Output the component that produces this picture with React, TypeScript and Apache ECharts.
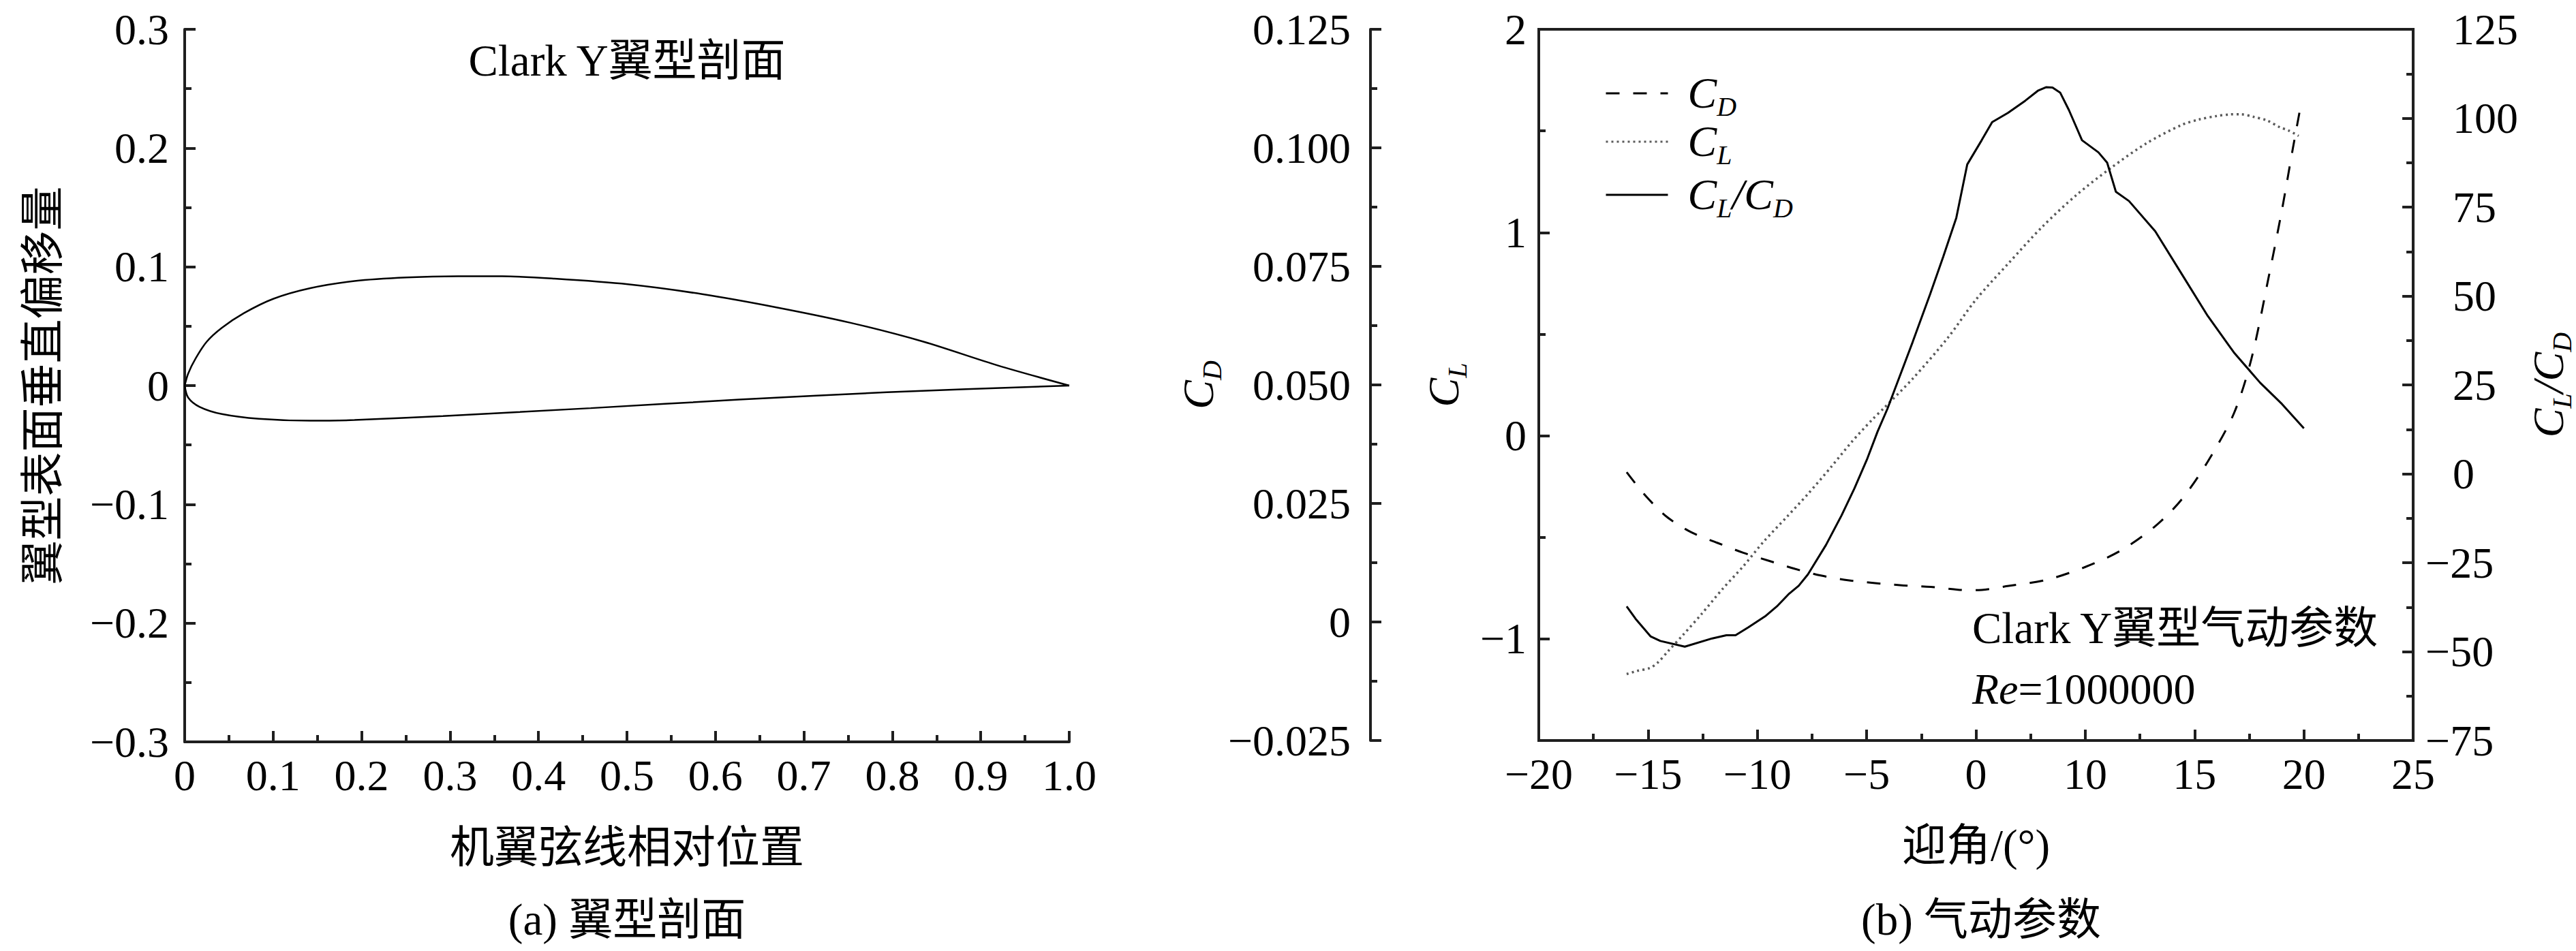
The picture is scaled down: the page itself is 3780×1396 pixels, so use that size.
import React, { useEffect, useRef } from 'react';
import * as echarts from 'echarts';

const SERIF = "'Liberation Serif', 'Noto Sans CJK SC', serif";
const INK = '#1f1f1f';

// ---- (a) Clark Y airfoil section ----
const upperX = [0, 0.004, 0.0125, 0.025, 0.042, 0.067, 0.1, 0.142, 0.192, 0.251, 0.309, 0.359, 0.418, 0.501, 0.585, 0.668, 0.752, 0.835, 0.919, 1.0];
const upperY = [0, 0.0102, 0.023, 0.037, 0.0486, 0.061, 0.073, 0.082, 0.088, 0.091, 0.092, 0.092, 0.09, 0.0853, 0.077, 0.066, 0.053, 0.037, 0.017, 0];
const lowerX = [0, 0.004, 0.017, 0.042, 0.084, 0.142, 0.192, 0.292, 0.459, 0.627, 0.794, 1.0];
const lowerY = [0, -0.0102, -0.018, -0.024, -0.028, -0.0296, -0.029, -0.0256, -0.019, -0.0118, -0.0056, 0];

const leftXLabels = ['0', '0.1', '0.2', '0.3', '0.4', '0.5', '0.6', '0.7', '0.8', '0.9', '1.0'];
const leftYLabels = ['\u22120.3', '\u22120.2', '\u22120.1', '0', '0.1', '0.2', '0.3'];

// ---- (b) aerodynamic coefficients (x in plotted axis position) ----
const alphaCD = [-15.98, -15.15, -14.15, -13.02, -11.84, -10.65, -9.47, -8.28, -7.1, -5.86, -4.61, -3.31, -2.07, -0.82, 0, 1.5, 3.25, 5.0, 6.6, 8.2, 9.4, 10.6, 11.8, 12.6, 13.4, 14.0, 14.5, 14.9];
const cdValues = [0.0316, 0.0268, 0.0222, 0.0189, 0.0167, 0.0146, 0.0129, 0.0112, 0.0098, 0.0088, 0.0082, 0.0077, 0.0074, 0.0068, 0.0067, 0.0076, 0.0089, 0.0116, 0.015, 0.0202, 0.0258, 0.0338, 0.044, 0.0555, 0.073, 0.087, 0.1, 0.11];

const alphaCL = [-15.98, -15.51, -14.92, -14.56, -14.09, -13.38, -12.55, -11.6, -10.65, -9.71, -8.64, -7.69, -6.62, -5.68, -4.73, -4.2, -2.9, -1.3, 0, 1.5, 3.05, 4.6, 6.2, 7.8, 9.4, 10.2, 11.0, 11.6, 12.1, 12.7, 13.3, 13.9, 14.3, 14.76];
const clValues = [-1.173, -1.158, -1.143, -1.117, -1.061, -0.978, -0.877, -0.755, -0.643, -0.521, -0.398, -0.287, -0.153, -0.03, 0.081, 0.137, 0.28, 0.48, 0.67, 0.85, 1.03, 1.185, 1.32, 1.439, 1.529, 1.556, 1.573, 1.581, 1.582, 1.569, 1.552, 1.518, 1.502, 1.475];

const alphaLD = [-15.98, -15.57, -14.89, -14.44, -13.32, -12.07, -11.42, -11.0, -10.42, -9.65, -9.11, -8.58, -8.11, -7.69, -6.86, -6.15, -5.56, -4.97, -4.5, -4.05, -3.7, -2.9, -2.1, -1.5, -0.9, -0.4, 0.26, 0.74, 1.46, 2.25, 2.85, 3.2, 3.5, 3.85, 4.25, 4.85, 5.6, 6.0, 6.4, 7.0, 8.2, 9.4, 10.6, 11.8, 13.0, 14.0, 15.0];
const ldValues = [-37.3, -40.8, -45.7, -47.0, -48.6, -46.3, -45.4, -45.4, -43.2, -40.1, -37.3, -33.9, -31.5, -28.3, -20.0, -11.7, -4.1, 4.3, 11.9, 18.3, 24, 37, 50.5, 61, 72, 87, 93.8, 98.9, 101.5, 104.9, 107.8, 108.7, 108.6, 107.2, 102.3, 93.8, 90.4, 87.5, 79.3, 76.7, 68.2, 56.3, 44.4, 34.1, 25.6, 19.6, 12.8];

const angleTickLabels = ['\u221220', '\u221215', '\u221210', '\u22125', '0', '10', '15', '20', '25'];
const cdTickLabels = ['\u22120.025', '0', '0.025', '0.050', '0.075', '0.100', '0.125'];
const clTickValues = [-1, 0, 1, 2];
const clTickLabels = ['\u22121', '0', '1', '2'];
const clMinorValues = [-1.5, -0.5, 0.5, 1.5];
const ldTickLabels = ['\u221275', '\u221250', '\u221225', '0', '25', '50', '75', '100', '125'];

const legendLabels: Record<string, string> = {
  CD: '{i|C}{s|D}',
  CL: '{i|C}{s|L}',
  'CL/CD': '{i|C}{s|L}{i|/C}{s|D}',
};

const zip = (xs: number[], ys: number[]) => xs.map((x, i) => [x, ys[i]]);

const subRich = {
  i: { fontFamily: SERIF, fontStyle: 'italic', fontSize: 64, lineHeight: 80, verticalAlign: 'middle', color: '#000' },
  s: { fontFamily: SERIF, fontStyle: 'italic', fontSize: 40, lineHeight: 54, verticalAlign: 'bottom', color: '#000' },
};

const axisLine = { show: true, onZero: false, lineStyle: { color: INK, width: 4 } };
const tick = (len: number) => ({ show: true, inside: true, length: len, lineStyle: { color: INK, width: 4 } });
const minor = { show: true, splitNumber: 2, length: 10, lineStyle: { color: INK, width: 4 } };
const label = (margin: number, fmt: (v: number) => string) => ({
  show: true, margin, fontFamily: SERIF, fontSize: 64, color: '#000', formatter: fmt,
});
const cjkName = { fontFamily: SERIF, fontSize: 65, color: '#000', lineHeight: 65 };

export default function App() {
  const ref = useRef<HTMLDivElement>(null);
  useEffect(() => {
    document.body.style.margin = '0';
    if (!ref.current) return;
    const chart = echarts.init(ref.current, undefined, { renderer: 'svg' });
    const legendBase = {
      orient: 'vertical', left: 2355, itemWidth: 91, itemHeight: 20, padding: 0, selectedMode: false,
      lineStyle: { width: 3 },
      itemStyle: { opacity: 0 },
      textStyle: { color: '#000', fontFamily: SERIF, fontSize: 64, padding: [0, 0, 0, 24], rich: subRich },
      formatter: (n: string) => legendLabels[n],
    };
    chart.setOption({
      animation: false,
      backgroundColor: '#fff',
      grid: [
        { left: 271, top: 43, width: 1298, height: 1046, show: false },
        { left: 2258, top: 43, width: 1299, height: 1044, show: true, borderColor: INK, borderWidth: 4, backgroundColor: 'transparent' },
      ],
      xAxis: [
        {
          gridIndex: 0, type: 'value', position: 'bottom', min: 0, max: 1, interval: 0.1,
          axisLine, axisTick: tick(16), minorTick: minor, splitLine: { show: false },
          axisLabel: label(17, (v) => leftXLabels[Math.round(v * 10)] ?? ''),
          name: '机翼弦线相对位置', nameLocation: 'middle', nameGap: 122, nameTextStyle: cjkName,
        },
        {
          gridIndex: 1, type: 'value', position: 'bottom', min: -20, max: 20, interval: 5,
          axisLine, axisTick: tick(16), minorTick: minor, splitLine: { show: false },
          axisLabel: label(17, (v) => angleTickLabels[Math.round((v + 20) / 5)] ?? ''),
          name: '迎角/(°)', nameLocation: 'middle', nameGap: 121, nameTextStyle: cjkName,
        },
      ],
      yAxis: [
        {
          gridIndex: 0, type: 'value', position: 'left', min: -0.3, max: 0.3, interval: 0.1,
          axisLine, axisTick: tick(16), minorTick: minor, splitLine: { show: false },
          axisLabel: label(23, (v) => leftYLabels[Math.round((v + 0.3) * 10)] ?? ''),
          name: '翼型表面垂直偏移量', nameLocation: 'middle', nameGap: 176, nameRotate: 90, nameTextStyle: cjkName,
        },
        {
          gridIndex: 1, type: 'value', position: 'left', min: -1.5, max: 2,
          axisLine, axisTick: { ...tick(16), customValues: clTickValues }, splitLine: { show: false },
          axisLabel: {
            ...label(18, (v) => (Number.isInteger(Math.round(v * 1000) / 1000) ? clTickLabels[clTickValues.indexOf(Math.round(v))] ?? '' : '')),
            customValues: clTickValues,
          },
          name: '{i|C}{s|L}', nameLocation: 'middle', nameGap: 100, nameRotate: 90,
          nameTextStyle: { rich: subRich, lineHeight: 80 },
        },
        {
          gridIndex: 1, type: 'value', position: 'left', min: -1.5, max: 2,
          axisLine: { show: false, onZero: false }, axisTick: { ...tick(10), customValues: clMinorValues },
          axisLabel: { show: false }, splitLine: { show: false },
        },
        {
          gridIndex: 1, type: 'value', position: 'left', offset: 247, min: -0.025, max: 0.125, interval: 0.025,
          axisLine, axisTick: tick(16), minorTick: minor, splitLine: { show: false },
          axisLabel: label(29, (v) => cdTickLabels[Math.round((v + 0.025) / 0.025)] ?? ''),
          name: '{i|C}{s|D}', nameLocation: 'middle', nameGap: 196, nameRotate: 90,
          nameTextStyle: { rich: subRich, lineHeight: 80 },
        },
        {
          gridIndex: 1, type: 'value', position: 'right', min: -75, max: 125, interval: 25,
          axisLine, axisTick: tick(16), minorTick: minor, splitLine: { show: false },
          axisLabel: label(58, (v) => (v >= 0 ? ldTickLabels[Math.round((v + 75) / 25)] ?? '' : '')),
          name: '{i|C}{s|L}{i|/C}{s|D}', nameLocation: 'middle', nameGap: 148, nameRotate: 90,
          nameTextStyle: { rich: subRich, lineHeight: 80 },
        },
        {
          gridIndex: 1, type: 'value', position: 'right', min: -75, max: 125, interval: 25,
          axisLine: { show: false, onZero: false }, axisTick: { show: false }, splitLine: { show: false },
          axisLabel: label(18, (v) => (v < 0 ? ldTickLabels[Math.round((v + 75) / 25)] ?? '' : '')),
        },
      ],
      legend: [
        { ...legendBase, top: 105, data: ['CD'] },
        { ...legendBase, top: 176, data: ['CL'] },
        { ...legendBase, top: 254, data: ['CL/CD'] },
      ],
      series: [
        {
          type: 'line', name: 'upper', xAxisIndex: 0, yAxisIndex: 0, data: zip(upperX, upperY),
          symbol: 'none', smooth: 0.3, itemStyle: { color: '#000' }, lineStyle: { color: '#000', width: 2.5 },
        },
        {
          type: 'line', name: 'lower', xAxisIndex: 0, yAxisIndex: 0, data: zip(lowerX, lowerY),
          symbol: 'none', smooth: 0.3, itemStyle: { color: '#000' }, lineStyle: { color: '#000', width: 2.5 },
        },
        {
          type: 'line', name: 'CD', xAxisIndex: 1, yAxisIndex: 3, data: zip(alphaCD, cdValues),
          symbol: 'none', smooth: 0.3, itemStyle: { color: '#000' }, lineStyle: { color: '#000', width: 3, type: [20, 20] },
        },
        {
          type: 'line', name: 'CL', xAxisIndex: 1, yAxisIndex: 1, data: zip(alphaCL, clValues),
          symbol: 'none', smooth: 0.3, itemStyle: { color: '#5a5a5a' }, lineStyle: { color: '#5a5a5a', width: 3.5, type: [3, 5] },
        },
        {
          type: 'line', name: 'CL/CD', xAxisIndex: 1, yAxisIndex: 4, data: zip(alphaLD, ldValues),
          symbol: 'none', itemStyle: { color: '#000' }, lineStyle: { color: '#000', width: 3 },
        },
      ],
      graphic: [
        {
          type: 'text', x: 920, y: 89,
          style: { text: 'Clark Y翼型剖面', fontFamily: SERIF, fontSize: 65, fill: '#000', textAlign: 'center', textVerticalAlign: 'middle', align: 'center', verticalAlign: 'middle' },
        },
        {
          type: 'text', x: 2894, y: 922,
          style: { text: 'Clark Y翼型气动参数', fontFamily: SERIF, fontSize: 65, fill: '#000', textAlign: 'left', textVerticalAlign: 'middle', align: 'left', verticalAlign: 'middle' },
        },
        {
          type: 'text', x: 2894, y: 1011,
          style: {
            text: '{i|Re}{n|=1000000}', textAlign: 'left', textVerticalAlign: 'middle', align: 'left', verticalAlign: 'middle',
            rich: {
              i: { fontFamily: SERIF, fontStyle: 'italic', fontSize: 64, fill: '#000', color: '#000' },
              n: { fontFamily: SERIF, fontSize: 64, fill: '#000', color: '#000' },
            },
          },
        },
        {
          type: 'text', x: 920, y: 1350,
          style: { text: '(a) 翼型剖面', fontFamily: SERIF, fontSize: 65, fill: '#000', textAlign: 'center', textVerticalAlign: 'middle', align: 'center', verticalAlign: 'middle' },
        },
        {
          type: 'text', x: 2907, y: 1350,
          style: { text: '(b) 气动参数', fontFamily: SERIF, fontSize: 65, fill: '#000', textAlign: 'center', textVerticalAlign: 'middle', align: 'center', verticalAlign: 'middle' },
        },
      ],
    });
    return () => chart.dispose();
  }, []);
  return <div ref={ref} style={{ width: 3780, height: 1396 }} />;
}
